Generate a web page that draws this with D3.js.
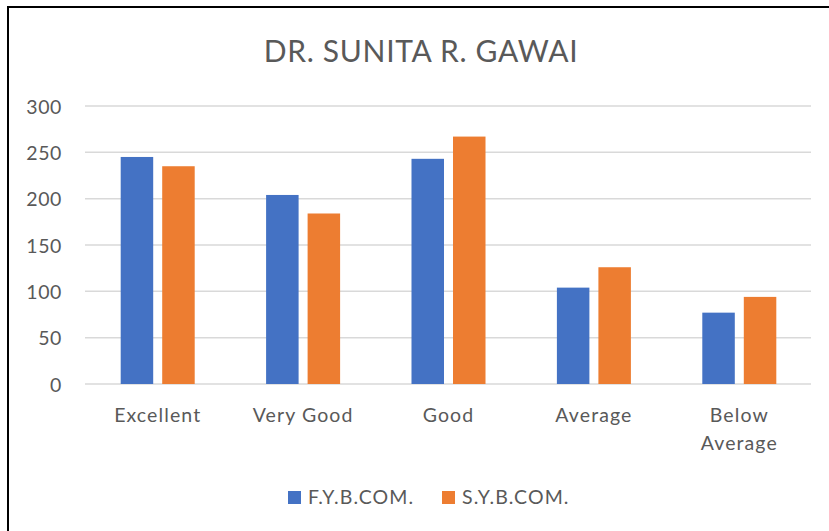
<!DOCTYPE html>
<html>
<head>
<meta charset="utf-8">
<script src="https://cdn.jsdelivr.net/npm/d3@7"></script>
<style>
  html, body { margin: 0; padding: 0; background: #fff; }
  svg { display: block; }
  text { font-family: Lato, "Open Sans", sans-serif; fill: #595959; }
</style>
</head>
<body>
<svg id="chart" width="829" height="531"></svg>
<script>
// Ratings per class
const categories = ["Excellent", "Very Good", "Good", "Average", "Below Average"];
const seriesNames = ["F.Y.B.COM.", "S.Y.B.COM."];
const fyValues = [245, 204, 243, 104, 77];
const syValues = [235, 184, 267, 126, 94];
const yTicks = [0, 50, 100, 150, 200, 250, 300];
const colors = ["#4472C4", "#ED7D31"];

const svg = d3.select("#chart");

// outer frame (left and top edges visible in the canvas)
svg.append("rect")
  .attr("x", 8).attr("y", 7)
  .attr("width", 900).attr("height", 600)
  .attr("fill", "none").attr("stroke", "#000").attr("stroke-width", 2);

const plot = { left: 85, right: 812, top: 106, bottom: 384 };

const x0 = d3.scaleBand()
  .domain(categories)
  .range([plot.left, plot.right])
  .paddingInner(0.491)
  .paddingOuter(0.2455);

const x1 = d3.scaleBand()
  .domain(seriesNames)
  .range([0, x0.bandwidth()])
  .paddingInner(0.217);

const y = d3.scaleLinear().domain([0, 300]).range([plot.bottom, plot.top]);

// gridlines
svg.append("g")
  .selectAll("line")
  .data(yTicks)
  .join("line")
  .attr("x1", plot.left).attr("x2", plot.right - 1)
  .attr("y1", d => y(d)).attr("y2", d => y(d))
  .attr("stroke", "#d9d9d9").attr("stroke-width", 1.5);

// y axis labels
const yAxis = d3.axisLeft(y).tickValues(yTicks).tickSize(0).tickPadding(0);
const yg = svg.append("g")
  .attr("transform", `translate(${plot.left - 23},0)`)
  .call(yAxis);
yg.select(".domain").remove();
yg.selectAll("text")
  .attr("font-family", "Lato, 'Open Sans', sans-serif")
  .style("font-size", "19.5px")
  .style("letter-spacing", "0.6px")
  .attr("fill", "#595959")
  .attr("dy", "0.36em");

// bars
const rows = categories.map((c, i) => ({ cat: c, vals: [fyValues[i], syValues[i]] }));
const groups = svg.append("g")
  .selectAll("g")
  .data(rows)
  .join("g")
  .attr("transform", d => `translate(${x0(d.cat)},0)`);

groups.selectAll("rect")
  .data(d => d.vals.map((v, j) => ({ name: seriesNames[j], value: v, j })))
  .join("rect")
  .attr("x", d => x1(d.name))
  .attr("width", x1.bandwidth())
  .attr("y", d => y(d.value))
  .attr("height", d => y(0) - y(d.value))
  .attr("fill", d => colors[d.j]);

// category labels (wrapped onto two lines where needed)
const catLabels = svg.append("g")
  .selectAll("text")
  .data(categories)
  .join("text")
  .attr("x", d => x0(d) + x0.bandwidth() / 2)
  .attr("y", 422)
  .attr("text-anchor", "middle")
  .style("font-size", "19.5px")
  .style("letter-spacing", "1.1px");
catLabels.each(function (d) {
  const words = d === "Below Average" ? ["Below", "Average"] : [d];
  const t = d3.select(this);
  words.forEach((w, k) => {
    t.append("tspan")
      .attr("x", x0(d) + x0.bandwidth() / 2)
      .attr("dy", k === 0 ? 0 : 27.5)
      .text(w);
  });
});

// title
svg.append("text")
  .attr("x", 421)
  .attr("y", 62)
  .attr("text-anchor", "middle")
  .style("font-size", "30px")
  .style("letter-spacing", "0.7px")
  .text("DR. SUNITA R. GAWAI");

// legend
const legendItems = [{ name: seriesNames[0], x: 288 }, { name: seriesNames[1], x: 442 }];
const lg = svg.append("g")
  .selectAll("g")
  .data(legendItems)
  .join("g")
  .attr("transform", d => `translate(${d.x},491)`);
lg.append("rect")
  .attr("width", 13).attr("height", 13)
  .attr("fill", (d, i) => colors[i]);
lg.append("text")
  .attr("x", 20)
  .attr("y", 13)
  .style("font-size", "19.5px")
  .style("letter-spacing", "1.1px")
  .text(d => d.name);
</script>
</body>
</html>
